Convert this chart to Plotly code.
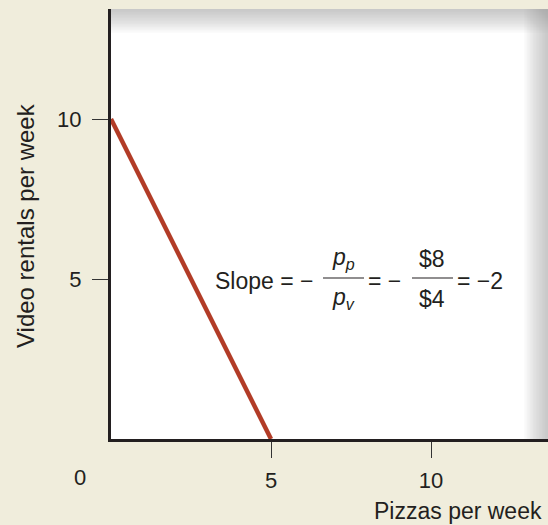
import plotly.graph_objects as go

# Budget line: video rentals vs pizzas per week
pizzas = [0, 5]
videos = [10, 0]

x_ticks = [5, 10]
y_ticks = [5, 10]
x_tick_text = ['5', '10']
y_tick_text = ['5', '10']

# figure geometry (pixels)
W, H = 548, 525
L, R, T, B = 111, 0, 9, 86
PW, PH = W - L - R, H - T - B
PX = 32.0  # pixels per unit
x_max = PW / PX
y_max = PH / PX


# pixel -> paper coordinates (for text placement)
def px_x(px):
    return (px - L) / PW


def px_y(py):
    return (H - B - py) / PH


FONT = 'Liberation Sans'
TXT = '#231F20'

fig = go.Figure()

fig.add_trace(go.Scatter(
    x=pizzas, y=videos, mode='lines',
    line=dict(color='#B23C27', width=4.5),
    hoverinfo='skip', showlegend=False
))

shapes = []
# gradient band along the top of the panel
n = 16
for i in range(n):
    h = 24 * (1 - i / n)
    shapes.append(dict(type='rect', xref='paper', yref='paper', layer='below',
                       x0=0, x1=1, y0=1 - h / PH, y1=1,
                       fillcolor='rgba(150,155,162,0.04)', line_width=0))
# gradient band along the right edge
for i in range(n):
    w = 24 * (1 - i / n)
    shapes.append(dict(type='rect', xref='paper', yref='paper', layer='below',
                       x0=1 - w / PW, x1=1, y0=0, y1=1,
                       fillcolor='rgba(150,155,162,0.04)', line_width=0))

# fraction bars of the slope formula
for a, b in [(323, 364), (412, 453)]:
    shapes.append(dict(type='line', xref='paper', yref='paper',
                       x0=px_x(a), x1=px_x(b), y0=px_y(278), y1=px_y(278),
                       line=dict(color=TXT, width=1.2)))

ann = []


def txt(s, px, py, anchor='center', size=23, angle=0):
    ann.append(dict(text=s, x=px_x(px), y=px_y(py), xref='paper', yref='paper',
                    xanchor=anchor, yanchor='middle', showarrow=False, textangle=angle,
                    font=dict(family=FONT, size=size, color=TXT)))


txt('Slope = \u2212', 213, 281, 'left')
txt('<i>p</i><sub><i>p</i></sub>', 343, 258)
txt('<i>p</i><sub><i>v</i></sub>', 343, 298)
txt('= \u2212', 384, 281)
txt('$8', 432, 259)
txt('$4', 432, 299)
txt('= \u22122', 455, 281, 'left')
txt('0', 80, 477, size=22)

# axis titles
txt('Video rentals per week', 25, 226, size=24, angle=-90)
txt('Pizzas per week', 544, 511, 'right', size=23)

fig.update_layout(
    width=W, height=H,
    margin=dict(l=L, r=R, t=T, b=B),
    paper_bgcolor='#F0EDDC',
    plot_bgcolor='white',
    shapes=shapes,
    annotations=ann,
    showlegend=False,
)
fig.update_xaxes(
    range=[0, x_max], showgrid=False, zeroline=False,
    showline=True, linewidth=3, linecolor=TXT,
    tickvals=x_ticks, ticktext=x_tick_text,
    ticks='outside', ticklen=16, tickwidth=1.3, tickcolor='#333',
    ticklabelstandoff=4,
    tickfont=dict(family=FONT, size=22, color=TXT),
)
fig.update_yaxes(
    range=[0, y_max], showgrid=False, zeroline=False,
    showline=True, linewidth=3, linecolor=TXT,
    tickvals=y_ticks, ticktext=y_tick_text,
    ticks='outside', ticklen=16, tickwidth=1.3, tickcolor='#333',
    ticklabelstandoff=6,
    tickfont=dict(family=FONT, size=22, color=TXT),
)

# page body has an 8px default margin; drop it so the figure sits at 0,0
fig.write_html('out.html', config={'displayModeBar': False},
               post_script="document.body.style.margin='0';")
